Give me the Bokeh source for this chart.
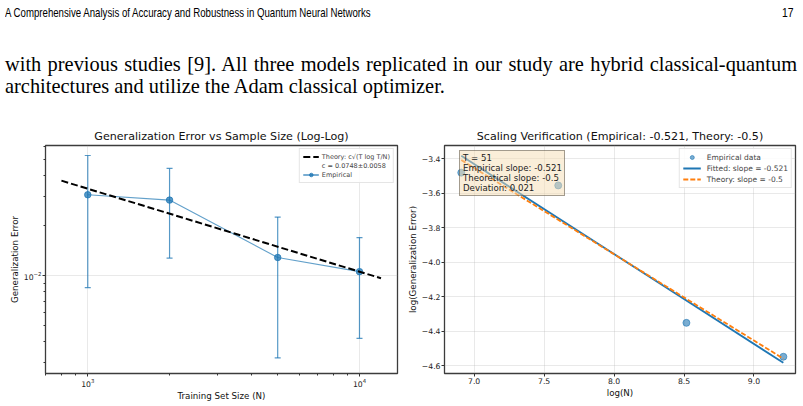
import numpy as np
from bokeh.plotting import figure
from bokeh.models import (Range1d, FixedTicker, Legend, LegendItem, Div,
                          CustomJSTickFormatter, PrintfTickFormatter)
from bokeh.layouts import column, row
from bokeh.embed import file_html
from bokeh.resources import INLINE

# ---------------- data ----------------
running_head = "A Comprehensive Analysis of Accuracy and Robustness in Quantum Neural Networks"
page_number = "17"
body_line1 = "with previous studies [9]. All three models replicated in our study are hybrid classical-quantum"
body_line2 = "architectures and utilize the Adam classical optimizer."

train_sizes = [1000, 2000, 5000, 10000]
mean_error = [0.0308, 0.0286, 0.0129, 0.0106]
std_error = [0.0223, 0.0158, 0.0097, 0.0064]
theory_sizes = [800, 12000]
theory_error = [0.03745, 0.00967]

fit_logn = [6.908, 9.210]
fit_logerr = [-3.383, -4.582]
theory_logerr = [-3.407, -4.558]

left_x_major = [1000, 10000]
left_x_minor = [700, 800, 900, 2000, 3000, 4000, 5000, 6000, 7000, 8000, 9000]
left_y_major = [0.01]
left_y_minor = [0.003, 0.004, 0.005, 0.006, 0.007, 0.008, 0.009, 0.02, 0.03, 0.04, 0.05, 0.06]
right_x_ticks = [7.0, 7.5, 8.0, 8.5, 9.0]
right_y_ticks = [-4.6, -4.4, -4.2, -4.0, -3.8, -3.6, -3.4]

left_title = "Generalization Error vs Sample Size (Log-Log)"
right_title = "Scaling Verification (Empirical: -0.521, Theory: -0.5)"
info_lines = ["T = 51", "Empirical slope: -0.521", "Theoretical slope: -0.5", "Deviation: 0.021"]

# ---------------- derived ----------------
lower = [m - s for m, s in zip(mean_error, std_error)]
upper = [m + s for m, s in zip(mean_error, std_error)]
log_n = list(np.log(train_sizes))
log_err = list(np.log(mean_error))

FONT = "DejaVu Sans"
BLUE = "#1f77b4"
ORANGE = "#ff7f0e"


def style(p):
    p.title.text_font = FONT
    p.title.text_font_size = "11.1px"
    p.title.text_font_style = "normal"
    p.title.align = "center"
    p.title.text_color = "#111111"
    p.title.standoff = 5
    p.outline_line_color = "#3c3c3c"
    p.outline_line_width = 1.3
    p.background_fill_color = "white"
    p.border_fill_color = "white"
    for ax in p.axis:
        ax.axis_line_color = None
        ax.major_tick_line_color = "#333333"
        ax.minor_tick_line_color = "#333333"
        ax.major_tick_out = 3
        ax.major_tick_in = 0
        ax.minor_tick_out = 2
        ax.minor_tick_in = 0
        ax.major_label_text_font = FONT
        ax.major_label_text_font_size = "7.7px"
        ax.major_label_text_color = "#222222"
        ax.major_label_standoff = 1
        ax.axis_label_text_font = FONT
        ax.axis_label_text_font_size = "8.7px"
        ax.axis_label_text_font_style = "normal"
        ax.axis_label_text_color = "#111111"
        ax.axis_label_standoff = 1
    for g in p.grid:
        g.grid_line_color = "#b0b0b0"
        g.grid_line_alpha = 0.35
        g.grid_line_width = 0.8


FIG_H = 284

# ---------------- left chart ----------------
p1 = figure(width=404, height=FIG_H, x_axis_type="log", y_axis_type="log",
            x_range=Range1d(699, 13800), y_range=Range1d(0.002579, 0.0610),
            output_backend="svg", toolbar_location=None,
            min_border_left=45, min_border_right=7, min_border_top=25, min_border_bottom=31,
            title=left_title)
style(p1)
p1.xaxis.ticker = FixedTicker(ticks=left_x_major, minor_ticks=left_x_minor)
p1.yaxis.ticker = FixedTicker(ticks=left_y_major, minor_ticks=left_y_minor)
p1.xaxis.axis_label = "Training Set Size (N)"
p1.yaxis.axis_label = "Generalization Error"

r_bar = p1.segment(x0=train_sizes, y0=lower, x1=train_sizes, y1=upper,
                   line_color=BLUE, line_alpha=0.75, line_width=1.2)
p1.scatter(train_sizes, lower, marker="dash", size=6, line_color=BLUE, line_alpha=0.75, line_width=1.2)
p1.scatter(train_sizes, upper, marker="dash", size=6, line_color=BLUE, line_alpha=0.75, line_width=1.2)
r_eline = p1.line(train_sizes, mean_error, line_color=BLUE, line_alpha=0.7, line_width=1.1)
r_epts = p1.scatter(train_sizes, mean_error, size=6.5, fill_color=BLUE, line_color=BLUE,
                    fill_alpha=0.75, line_alpha=0.75)
r_theory = p1.line(theory_sizes, theory_error, line_color="black", line_width=2, line_dash="7 3")

leg1 = Legend(items=[LegendItem(label="Theory: c√(T log T/N)", renderers=[r_theory]),
                     LegendItem(label="c = 0.0748±0.0058", renderers=[]),
                     LegendItem(label="Empirical", renderers=[r_eline, r_bar, r_epts])],
              location="top_right", margin=3, padding=3, spacing=0,
              label_text_font=FONT, label_text_font_size="6.5px", label_height=9,
              glyph_height=9, glyph_width=16, label_standoff=3,
              border_line_color="#cccccc", background_fill_alpha=0.85)
p1.add_layout(leg1)

# ---------------- right chart ----------------
p2 = figure(width=395, height=FIG_H, x_range=Range1d(6.788, 9.297), y_range=Range1d(-4.644, -3.323),
            output_backend="svg", toolbar_location=None,
            min_border_left=39, min_border_right=4, min_border_top=25, min_border_bottom=31,
            title=right_title)
style(p2)
p2.xaxis.ticker = FixedTicker(ticks=right_x_ticks)
p2.yaxis.ticker = FixedTicker(ticks=right_y_ticks)
p2.xaxis.formatter = PrintfTickFormatter(format="%.1f")
p2.yaxis.formatter = CustomJSTickFormatter(code="return tick.toFixed(1).replace('-', '\\u2212');")
p2.xaxis.axis_label = "log(N)"
p2.yaxis.axis_label = "log(Generalization Error)"

r_sc = p2.scatter(log_n, log_err, size=7, fill_color=BLUE, line_color=BLUE,
                  fill_alpha=0.6, line_alpha=0.6)
r_fit = p2.line(fit_logn, fit_logerr, line_color=BLUE, line_width=1.8)
r_th = p2.line(fit_logn, theory_logerr, line_color=ORANGE, line_width=1.8, line_dash="5 2")

leg2 = Legend(items=[LegendItem(label="Empirical data", renderers=[r_sc]),
                     LegendItem(label="Fitted: slope = -0.521", renderers=[r_fit]),
                     LegendItem(label="Theory: slope = -0.5", renderers=[r_th])],
              location="top_right", margin=3, padding=3, spacing=1,
              label_text_font=FONT, label_text_font_size="7.5px", label_height=10,
              glyph_height=10, glyph_width=18, label_standoff=6,
              border_line_color="#cccccc", background_fill_alpha=0.85)
p2.add_layout(leg2)

# info box (text box at the upper left of the axes)
info_box = Legend(items=[LegendItem(label=t, renderers=[]) for t in info_lines],
                  location=(15, 177), margin=0, padding=2, spacing=0,
                  label_text_font=FONT, label_text_font_size="8.6px", label_text_color="#222222",
                  label_height=9, glyph_height=9, glyph_width=0, label_standoff=1,
                  background_fill_color="wheat", background_fill_alpha=0.5,
                  border_line_color="black", border_line_alpha=0.35, border_line_width=1)
p2.add_layout(info_box)

# ---------------- page text ----------------
TOTAL_W = 799
html = f"""
<div style="position:relative;width:{TOTAL_W}px;height:120px;color:#000;overflow:visible;">
  <div style="position:absolute;left:5px;top:5px;font-family:'Liberation Sans';font-size:13px;line-height:15px;white-space:nowrap;transform:scaleX(0.742);transform-origin:left top;">{running_head}</div>
  <div style="position:absolute;right:6px;top:5px;font-family:'Liberation Sans';font-size:13px;line-height:15px;transform:scaleX(0.8);transform-origin:right top;">{page_number}</div>
  <div style="position:absolute;left:5px;top:52.4px;width:792px;font-family:'Liberation Serif';font-size:20.4px;line-height:24px;text-align:justify;text-align-last:justify;">{body_line1}</div>
  <div style="position:absolute;left:5px;top:74.4px;font-family:'Liberation Serif';font-size:20.4px;line-height:24px;white-space:nowrap;">{body_line2}</div>
</div>
"""
div = Div(text=html, width=TOTAL_W, height=120, margin=0)

layout = column(div, row(p1, p2, spacing=0), spacing=0)
open("out.html", "w").write(file_html(layout, INLINE))
